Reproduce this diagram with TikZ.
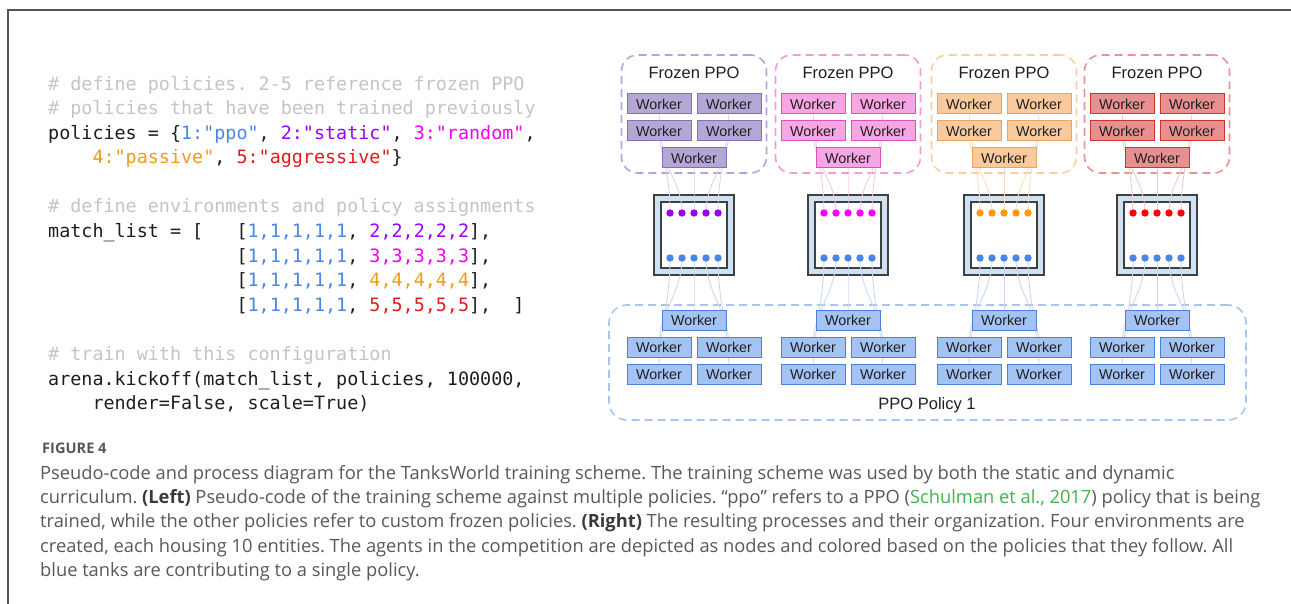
\documentclass[tikz,border=0pt]{standalone}
\usepackage{fontspec}
\setmainfont{Open Sans}
\setmonofont{DejaVu Sans Mono}
\newfontfamily\arialf{Liberation Sans}
\frenchspacing
\pgfdeclarelayer{bg}
\pgfdeclarelayer{links}
\pgfsetlayers{bg,links,main}

\definecolor{cmt}{HTML}{C4C4C4}
\definecolor{codeblk}{HTML}{1E1E1E}
\definecolor{pblue}{HTML}{4A86E8}
\definecolor{ppurple}{HTML}{9900FF}
\definecolor{pmag}{HTML}{F000F0}
\definecolor{porange}{HTML}{F29A1A}
\definecolor{pred}{HTML}{E01B1B}
\definecolor{capgrey}{HTML}{585858}
\definecolor{capdark}{HTML}{3A3A3A}
\definecolor{capgreen}{HTML}{3DB54A}
\definecolor{framec}{HTML}{555555}
\definecolor{envfill}{HTML}{CFE2F3}
\definecolor{envbd}{HTML}{404040}
% purple
\definecolor{wfA}{HTML}{B4A7D6}\definecolor{wdA}{HTML}{7F6FBF}\definecolor{gdA}{HTML}{B1A6DA}\definecolor{lcA}{HTML}{DCD5EE}\definecolor{dcA}{HTML}{9900F0}
% pink
\definecolor{wfB}{HTML}{F8A5E3}\definecolor{wdB}{HTML}{DD4FC0}\definecolor{gdB}{HTML}{F59AD9}\definecolor{lcB}{HTML}{F7C9EA}\definecolor{dcB}{HTML}{FF00FF}
% orange
\definecolor{wfC}{HTML}{F9CB9C}\definecolor{wdC}{HTML}{EFA35A}\definecolor{gdC}{HTML}{F9CFA0}\definecolor{lcC}{HTML}{FADDC2}\definecolor{dcC}{HTML}{FF9900}
% red
\definecolor{wfD}{HTML}{E89090}\definecolor{wdD}{HTML}{CC3333}\definecolor{gdD}{HTML}{E79393}\definecolor{lcD}{HTML}{F0CCCC}\definecolor{dcD}{HTML}{FF0000}
% blue
\definecolor{wfE}{HTML}{A4C2F4}\definecolor{wdE}{HTML}{4A80D8}\definecolor{gdE}{HTML}{A9C4F0}\definecolor{lcE}{HTML}{C9D9F5}\definecolor{dcE}{HTML}{4A86E8}

\newcommand\C[2]{\textcolor{#1}{#2}}

\tikzset{
  codeln/.style={anchor=base west, inner sep=0pt, font=\fontsize{18.4}{22}\ttfamily, text=codeblk},
  cmtln/.style={codeln, text=cmt},
  wk/.style 2 args={draw=#2, fill=#1, line width=1pt, minimum width=64pt, minimum height=20pt, inner sep=0pt, font=\arialf\fontsize{14.3}{14}\selectfont, text=black!88},
  grp/.style={draw=#1, dash pattern=on 8pt off 5pt, line width=1.6pt, rounded corners=16pt, inner sep=0pt},
  envo/.style={draw=envbd, fill=envfill, line width=1.6pt, minimum size=80pt, inner sep=0pt},
  envi/.style={draw=envbd, fill=white, line width=1.3pt, minimum size=66pt, inner sep=0pt},
  dotn/.style={circle, fill=#1, minimum size=7.4pt, inner sep=0pt},
  link/.style={draw=#1, line width=0.9pt},
  lbl/.style={font=\arialf\fontsize{16.5}{16.5}\selectfont, text=black!88, inner sep=0pt},
  capln/.style={anchor=base west, inner sep=0pt, font=\fontsize{18.3}{20}\selectfont, text=capgrey},
}

\begin{document}
\begin{tikzpicture}[x=1pt,y=-1pt]
\useasboundingbox (0,0) rectangle (1291,604);

% frame
\coordinate (fb) at (8,604);
\coordinate (ft) at (8,10);
\coordinate (fr) at (1291,10);
\draw[framec, line width=1.5pt] (fb) -- (ft) -- (fr);

% ---------------- code ----------------
\node[cmtln] (c0) at (48,90.5) {\#~define policies. 2-5 reference frozen PPO};
\node[cmtln] (c1) at (48,115) {\#~policies that have been trained previously};
\node[codeln] (c2) at (48,139.5) {policies = \{\C{pblue}{1:"ppo"}, \C{ppurple}{2:"static"}, \C{pmag}{3:"random"},};
\node[codeln] (c3) at (48,164) {~~~~\C{porange}{4:"passive"}, \C{pred}{5:"aggressive"}\}};
\node[cmtln] (c5) at (48,213) {\#~define environments and policy assignments};
\node[codeln] (c6) at (48,237.6) {match\_list = [~~~[\C{pblue}{1,1,1,1,1}, \C{ppurple}{2,2,2,2,2}],};
\node[codeln] (c7) at (48,262.2) {~~~~~~~~~~~~~~~~~[\C{pblue}{1,1,1,1,1}, \C{pmag}{3,3,3,3,3}],};
\node[codeln] (c8) at (48,286.8) {~~~~~~~~~~~~~~~~~[\C{pblue}{1,1,1,1,1}, \C{porange}{4,4,4,4,4}],};
\node[codeln] (c9) at (48,311.4) {~~~~~~~~~~~~~~~~~[\C{pblue}{1,1,1,1,1}, \C{pred}{5,5,5,5,5}],~~]};
\node[cmtln] (c11) at (48,360.4) {\#~train with this configuration};
\node[codeln] (c12) at (48,385) {arena.kickoff(match\_list, policies, 100000,};
\node[codeln] (c13) at (48,409.5) {~~~~render=False, scale=True)};

% ---------------- diagram ----------------
\begin{pgfonlayer}{bg}
\node[grp=gdE, minimum width=637pt, minimum height=115pt, rounded corners=18pt] (PG) at (927.5,362.5) {};
\end{pgfonlayer}
\node[lbl] (PL) at (927,405) {PPO Policy 1};

\foreach \g/\gx/\fillc/\bordc/\dashc/\linec/\dotc in {1/694/wfA/wdA/gdA/lcA/dcA, 2/848/wfB/wdB/gdB/lcB/dcB, 3/1004/wfC/wdC/gdC/lcC/dcC, 4/1157/wfD/wdD/gdD/lcD/dcD}{
  \begin{pgfonlayer}{bg}
    \node[grp=\dashc, minimum width=145pt, minimum height=118pt] (G\g) at (\gx,114) {};
    \node[envo] (E\g) at (\gx,235) {};
    \node[envi] (I\g) at (\gx,235) {};
  \end{pgfonlayer}
  \node[lbl] (T\g) at (\gx,73) {Frozen PPO};
  % frozen workers
  \node[wk={\fillc}{\bordc}] (W\g-a) at (\gx-35,104) {Worker};
  \node[wk={\fillc}{\bordc}] (W\g-b) at (\gx+35,104) {Worker};
  \node[wk={\fillc}{\bordc}] (W\g-c) at (\gx-35,131) {Worker};
  \node[wk={\fillc}{\bordc}] (W\g-d) at (\gx+35,131) {Worker};
  \node[wk={\fillc}{\bordc}] (W\g-e) at (\gx,158) {Worker};
  % ppo workers
  \node[wk={wfE}{wdE}] (B\g-e) at (\gx,320) {Worker};
  \node[wk={wfE}{wdE}] (B\g-c) at (\gx-35,347) {Worker};
  \node[wk={wfE}{wdE}] (B\g-d) at (\gx+35,347) {Worker};
  \node[wk={wfE}{wdE}] (B\g-a) at (\gx-35,374) {Worker};
  \node[wk={wfE}{wdE}] (B\g-b) at (\gx+35,374) {Worker};
  % dots
  \foreach \k in {1,...,5}{
    \node[dotn=\dotc] (D\g-t\k) at (\gx-36+12*\k,213) {};
    \node[dotn=dcE] (D\g-b\k) at (\gx-36+12*\k,258) {};
  }
  \begin{pgfonlayer}{links}
    \draw[link=\linec] (W\g-a.center) to[out=-90,in=90] (D\g-t1.center);
    \draw[link=\linec] (W\g-c.center) to[out=-90,in=90] (D\g-t2.center);
    \draw[link=\linec] (W\g-e.center) to[out=-90,in=90] (D\g-t3.center);
    \draw[link=\linec] (W\g-d.center) to[out=-90,in=90] (D\g-t4.center);
    \draw[link=\linec] (W\g-b.center) to[out=-90,in=90] (D\g-t5.center);
    \draw[link=lcE] (D\g-b1.center) to[out=-90,in=90] (B\g-a.center);
    \draw[link=lcE] (D\g-b2.center) to[out=-90,in=90] (B\g-c.center);
    \draw[link=lcE] (D\g-b3.center) to[out=-90,in=90] (B\g-e.center);
    \draw[link=lcE] (D\g-b4.center) to[out=-90,in=90] (B\g-d.center);
    \draw[link=lcE] (D\g-b5.center) to[out=-90,in=90] (B\g-b.center);
  \end{pgfonlayer}
}

% ---------------- caption ----------------
\node[anchor=base west, inner sep=0pt, font=\fontsize{14.6}{15}\selectfont\bfseries, text=capgrey] (fig) at (42,453) {FIGURE 4};
\node[capln] (l1) at (40,479) {Pseudo-code and process diagram for the TanksWorld training scheme. The training scheme was used by both the static and dynamic};
\node[capln] (l2) at (40,503.4) {curriculum. \textcolor{capdark}{\bfseries (Left)} Pseudo-code of the training scheme against multiple policies. “ppo” refers to a PPO (\textcolor{capgreen}{Schulman et al., 2017}) policy that is being};
\node[capln] (l3) at (40,527.8) {trained, while the other policies refer to custom frozen policies. \textcolor{capdark}{\bfseries (Right)} The resulting processes and their organization. Four environments are};
\node[capln] (l4) at (40,552.2) {created, each housing 10 entities. The agents in the competition are depicted as nodes and colored based on the policies that they follow. All};
\node[capln] (l5) at (40,576.6) {blue tanks are contributing to a single policy.};
\end{tikzpicture}
\end{document}
